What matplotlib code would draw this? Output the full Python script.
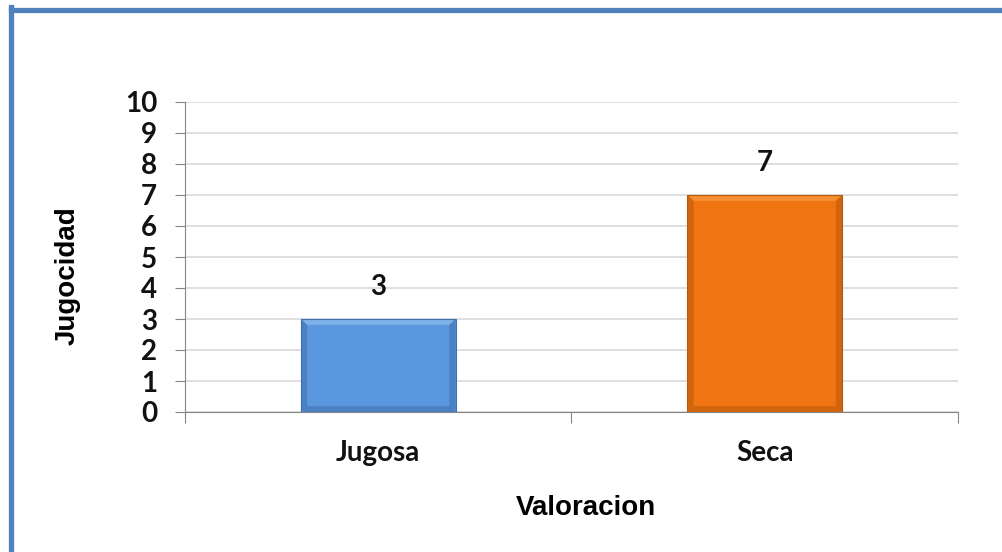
import matplotlib.pyplot as plt
from matplotlib.patches import Polygon, Rectangle
from matplotlib.ticker import FixedLocator

categorias = ["Jugosa", "Seca"]
valores = [3, 7]
colores = ["#5B97DE", "#F07412"]
claros = ["#9CC8F2", "#F9A650"]
oscuros = ["#3F70AE", "#B9590C"]

fig = plt.figure(figsize=(10.03, 5.52), dpi=100)
ax = fig.add_axes([185 / 1003, 1 - 412 / 552, (958 - 185) / 1003, (412 - 102) / 552])

x = list(range(len(categorias)))
ancho = 0.4
barras = ax.bar(x, valores, width=ancho, color=colores, edgecolor="none", zorder=3)

# bisel sencillo en los bordes de cada barra
bx, by = 0.016, 0.19
for b, claro, oscuro in zip(barras, claros, oscuros):
    x0, y0 = b.get_x(), b.get_y()
    x1, y1 = x0 + b.get_width(), y0 + b.get_height()
    caras = [
        ([(x0, y1), (x1, y1), (x1 - bx, y1 - by), (x0 + bx, y1 - by)], claro),
        ([(x1, y0), (x1, y1), (x1 - bx, y1 - by), (x1 - bx, y0 + by)], oscuro),
        ([(x0, y0), (x0, y1), (x0 + bx, y1 - by), (x0 + bx, y0 + by)], oscuro),
        ([(x0, y0), (x1, y0), (x1 - bx, y0 + by), (x0 + bx, y0 + by)], oscuro),
    ]
    for pts, c in caras:
        ax.add_patch(Polygon(pts, closed=True, facecolor=c, edgecolor="none",
                             alpha=0.55, zorder=4))
    ax.add_patch(Rectangle((x0, y0), b.get_width(), b.get_height(), fill=False,
                           edgecolor=oscuro, linewidth=0.8, zorder=5))

for xi, v in zip(x, valores):
    ax.text(xi, v + 0.62, str(v), ha="center", va="bottom", fontsize=20,
            fontweight="bold", family="Lato", color="#111111")

ax.set_xlim(-0.5, 1.5)
ax.set_ylim(0, 10)
ax.set_yticks(range(0, 11))
ax.yaxis.grid(True, color="#D9D9D9", linewidth=1.2, zorder=0)
ax.set_axisbelow(True)

ax.xaxis.set_major_locator(FixedLocator([-0.5, 0.5, 1.5]))
ax.xaxis.set_minor_locator(FixedLocator(x))
ax.set_xticklabels([])
ax.set_xticklabels(categorias, minor=True)
ax.tick_params(axis="x", which="major", length=8, color="#868686", direction="out")
ax.tick_params(axis="x", which="minor", length=0, pad=20)
ax.tick_params(axis="y", length=7, color="#868686", direction="out", pad=13)

for lab in ax.get_yticklabels() + ax.get_xticklabels(minor=True):
    lab.set_fontsize(20)
    lab.set_fontweight("bold")
    lab.set_family("Lato")
    lab.set_color("#111111")

for s in ["top", "right"]:
    ax.spines[s].set_visible(False)
ax.spines["left"].set_color("#868686")
ax.spines["bottom"].set_color("#868686")

fig.text(586 / 1003, 1 - 508 / 552, "Valoracion", ha="center", va="center",
         fontsize=20, fontweight="bold", family="Liberation Sans")
fig.text(68 / 1003, 1 - 276 / 552, "Jugocidad", ha="center", va="center",
         rotation=90, fontsize=20, fontweight="bold", family="Liberation Sans")

# marco azul superior e izquierdo
fig.add_artist(plt.Line2D([10.5 / 1003, 1], [1 - 9.5 / 552] * 2, color="#4F81BD",
                          linewidth=3.8, transform=fig.transFigure))
fig.add_artist(plt.Line2D([10.5 / 1003] * 2, [0, 1 - 7 / 552], color="#4F81BD",
                          linewidth=3.8, transform=fig.transFigure))

fig.savefig("out.png", dpi=100)
